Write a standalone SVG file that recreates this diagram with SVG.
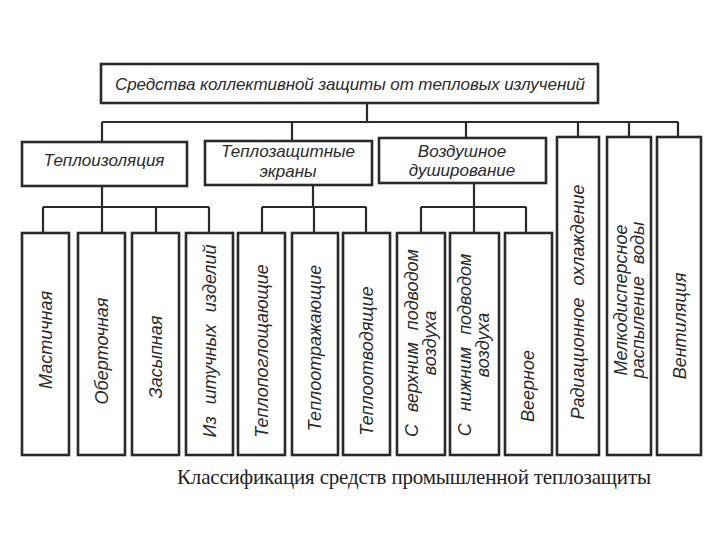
<svg xmlns="http://www.w3.org/2000/svg" width="720" height="540" viewBox="0 0 720 540">
<style>
.box{fill:#fff;stroke:#2a2a2a;stroke-width:2.6}
.ln{fill:none;stroke:#2a2a2a;stroke-width:2.2}
.t{font-family:"Liberation Sans",Arial,sans-serif;font-style:italic;font-size:17px;fill:#2a2a2a;text-anchor:middle}
.v{font-family:"Liberation Sans",Arial,sans-serif;font-style:italic;font-size:18px;fill:#2a2a2a;text-anchor:middle;dominant-baseline:central;word-spacing:7px}
.cap{font-family:"Liberation Serif","Times New Roman",serif;font-size:21px;fill:#222}
</style>
<rect width="720" height="540" fill="#fff"/>
<g id="connectors">
<path class="ln" d="M367 103V122M102 122H678M102 122V141M292 122V141M466 122V138M578 122V137M629 122V137M678 122V137"/>
<path class="ln" d="M102 186V207M43 207H209M43 207V233M156 207V233M209 207V233M102 207V233"/>
<path class="ln" d="M313 185V207M262 207H366M262 207V233M366 207V233M314 207V233"/>
<path class="ln" d="M474 183V207M421 207H526M421 207V233M526 207V233M474 207V233"/>
</g>
<g id="root"><rect class="box" x="101" y="64" width="497" height="39"/><text class="t" x="350" y="90" textLength="470" lengthAdjust="spacing">Средства коллективной защиты от тепловых излучений</text></g>
<g id="n-teploizol"><rect class="box" x="22" y="142" width="165" height="44"/><text class="t" x="104" y="166">Теплоизоляция</text></g>
<g id="n-ekrany"><rect class="box" x="205" y="141" width="167" height="44"/><text class="t" x="288" y="157">Теплозащитные</text><text class="t" x="288" y="177">экраны</text></g>
<g id="n-dush"><rect class="box" x="379" y="138" width="167" height="45"/><text class="t" x="462" y="157">Воздушное</text><text class="t" x="462" y="176">душирование</text></g>
<g id="n-mast"><rect class="box" x="22" y="233" width="47" height="222"/><text class="v" transform="translate(46 340) rotate(-90)">Мастичная</text></g>
<g id="n-obert"><rect class="box" x="78" y="233" width="47" height="222"/><text class="v" transform="translate(102 351) rotate(-90)">Оберточная</text></g>
<g id="n-zasyp"><rect class="box" x="132" y="233" width="47" height="222"/><text class="v" transform="translate(156 357) rotate(-90)">Засыпная</text></g>
<g id="n-sht"><rect class="box" x="186" y="233" width="47" height="222"/><text class="v" transform="translate(210 341) rotate(-90)">Из штучных изделий</text></g>
<g id="n-pogl"><rect class="box" x="238" y="233" width="47" height="222"/><text class="v" transform="translate(262 351) rotate(-90)">Теплопоглощающие</text></g>
<g id="n-otr"><rect class="box" x="292" y="233" width="46" height="222"/><text class="v" transform="translate(315 348) rotate(-90)">Теплоотражающие</text></g>
<g id="n-otv"><rect class="box" x="343" y="233" width="47" height="222"/><text class="v" transform="translate(367 361) rotate(-90)">Теплоотводящие</text></g>
<g id="n-verh"><rect class="box" x="397" y="233" width="48" height="222"/><text class="v" transform="translate(412 343) rotate(-90)">С верхним подводом</text><text class="v" transform="translate(430 343) rotate(-90)">воздуха</text></g>
<g id="n-nizh"><rect class="box" x="450" y="233" width="49" height="222"/><text class="v" transform="translate(465 345) rotate(-90)">С нижним подводом</text><text class="v" transform="translate(483 345) rotate(-90)">воздуха</text></g>
<g id="n-veer"><rect class="box" x="505" y="233" width="47" height="222"/><text class="v" transform="translate(528 386) rotate(-90)">Веерное</text></g>
<g id="n-rad"><rect class="box" x="557" y="137" width="42" height="318"/><text class="v" transform="translate(578 302) rotate(-90)">Радиационное охлаждение</text></g>
<g id="n-melk"><rect class="box" x="607" y="137" width="44" height="318"/><text class="v" transform="translate(621 300) rotate(-90)">Мелкодисперсное</text><text class="v" transform="translate(638 300) rotate(-90)">распыление воды</text></g>
<g id="n-vent"><rect class="box" x="657" y="137" width="44" height="318"/><text class="v" transform="translate(680 326) rotate(-90)">Вентиляция</text></g>
<text class="cap" x="177" y="484" textLength="474" lengthAdjust="spacing">Классификация средств промышленной теплозащиты</text>
</svg>
